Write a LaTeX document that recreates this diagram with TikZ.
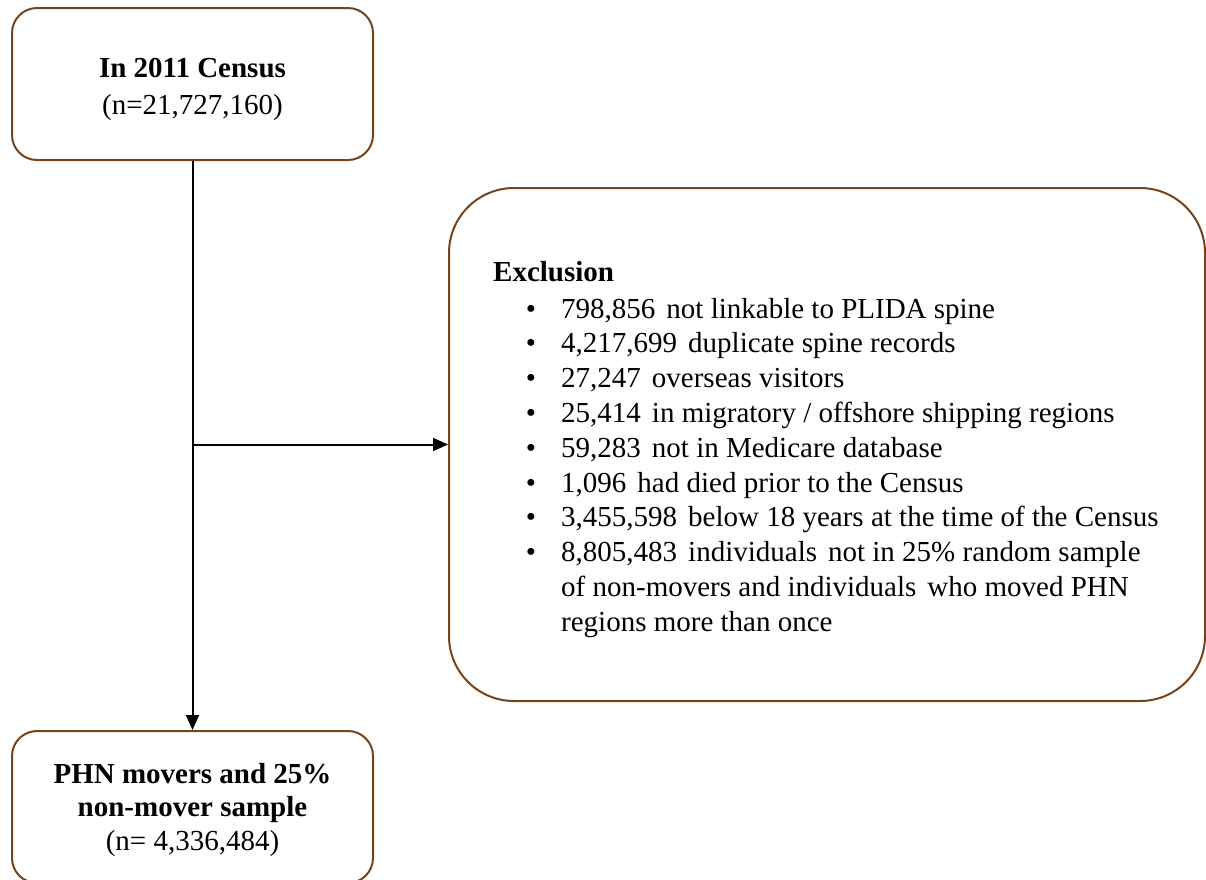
\documentclass[tikz,border=0pt]{standalone}
\usepackage{fontspec}
\setmainfont{Liberation Serif}
\usetikzlibrary{arrows.meta}
\definecolor{boxbrown}{RGB}{117,68,28}
\tikzset{
  box/.style={draw=boxbrown, line width=2pt, fill=white, inner sep=0pt, minimum width=361pt, minimum height=152pt, rounded corners=25pt},
  bigbox/.style={draw=boxbrown, line width=2pt, fill=white, inner sep=0pt, minimum width=756pt, minimum height=513pt, rounded corners=65pt},
  txt/.style={font=\fontsize{29}{34.8}\selectfont, inner sep=0pt, anchor=base west},
  ctxt/.style={txt, anchor=base},
  btxt/.style={ctxt, font=\fontsize{29}{34.8}\selectfont\bfseries},
  bul/.style={ctxt},
  conn/.style={line width=2pt, draw=black, -{Triangle[length=15pt,width=13pt]}},
  gap/.style={}
}
\newcommand{\gp}{\hspace{11pt}}
\begin{document}
\begin{tikzpicture}[x=1pt,y=-1pt]
\useasboundingbox (0,0) rectangle (1206,879);
% boxes
\node[box] (top) at (192.5,84) {};
\node[bigbox] (excl) at (827,444.5) {};
\node[box] (bot) at (192.5,807) {};
% top text
\node[btxt] (t1) at (192.5,77) {In 2011 Census};
\node[ctxt] (t2) at (192.5,114) {(n=21,727,160)};
% bottom text
\node[btxt] (b1) at (192.5,783) {PHN movers and 25\%};
\node[btxt] (b2) at (192.5,816) {non-mover sample};
\node[ctxt] (b3) at (192.5,850) {(n= 4,336,484)};
% exclusion text
\node[txt, font=\fontsize{29}{34.8}\selectfont\bfseries] (eh) at (493,281) {Exclusion};
\node[bul] (u1) at (531,318) {\textbullet};
\node[txt] (e1) at (561,318) {798,856\gp not linkable to PLIDA spine};
\node[bul] (u2) at (531,352.8) {\textbullet};
\node[txt] (e2) at (561,352.8) {4,217,699\gp duplicate spine records};
\node[bul] (u3) at (531,387.6) {\textbullet};
\node[txt] (e3) at (561,387.6) {27,247\gp overseas visitors};
\node[bul] (u4) at (531,422.4) {\textbullet};
\node[txt] (e4) at (561,422.4) {25,414\gp in migratory / offshore shipping regions};
\node[bul] (u5) at (531,457.2) {\textbullet};
\node[txt] (e5) at (561,457.2) {59,283\gp not in Medicare database};
\node[bul] (u6) at (531,492) {\textbullet};
\node[txt] (e6) at (561,492) {1,096\gp had died prior to the Census};
\node[bul] (u7) at (531,526.8) {\textbullet};
\node[txt] (e7) at (561,526.8) {3,455,598\gp below 18 years at the time of the Census};
\node[bul] (u8) at (531,561.6) {\textbullet};
\node[txt] (e8) at (561,561.6) {8,805,483\gp individuals\gp not in 25\% random sample};
\node[txt] (e9) at (561,596.4) {of non-movers and individuals\gp who moved PHN};
\node[txt] (e10) at (561,631.2) {regions more than once};
% connectors
\coordinate (j) at (top.south |- excl.west);
\draw[conn] (top.south) -- (bot.north);
\draw[conn] (j) -- (excl.west);
\end{tikzpicture}
\end{document}
